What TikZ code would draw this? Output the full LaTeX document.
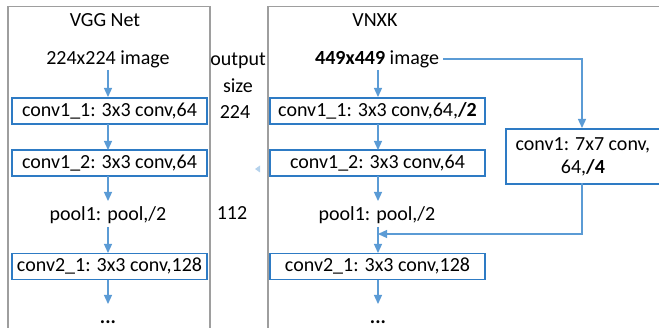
\documentclass[tikz,border=0pt]{standalone}
\usepackage{fontspec}
\setmainfont{Carlito}
\usetikzlibrary{arrows.meta}
\definecolor{boxblue}{HTML}{2E7BC4}
\definecolor{arrblue}{HTML}{5B9BD5}
\definecolor{panelgray}{HTML}{9E9E9E}
\begin{document}
\begin{tikzpicture}[x=1pt,y=-1pt,
  panel/.style={draw=panelgray,line width=1.8pt},
  layer/.style={draw=boxblue,line width=1.8pt,minimum height=26pt,inner sep=0pt,font=\fontsize{20}{23}\selectfont},
  txt/.style={inner sep=1pt,font=\fontsize{20}{23}\selectfont},
  flow/.style={draw=arrblue,line width=1.3pt,-{Triangle[width=8pt,length=9pt]}},
  plain/.style={draw=arrblue,line width=1.3pt}]
\useasboundingbox (0,0) rectangle (659,328);
\clip (0,0) rectangle (659,328);
% panels
\draw[panel] (8,340) -- (8,6.5) -- (210,6.5) -- (210,340);
\draw[panel] (268,340) -- (268,6.5) -- (670,6.5);
% left column
\node[txt] (vgg) at (105,20) {VGG Net};
\node[txt] (limg) at (108,59) {224x224 image};
\node[layer,minimum width=195pt] (l11) at (109.5,111) {conv1\_1: 3x3 conv,64};
\node[layer,minimum width=195pt] (l12) at (109.5,163) {conv1\_2: 3x3 conv,64};
\node[txt] (lpool) at (108,215) {pool1: pool,/2};
\node[layer,minimum width=195pt] (l21) at (109.5,266.5) {conv2\_1: 3x3 conv,128};
\node[txt] (ldots) at (108,322) {\textbf{...}};
\coordinate (la) at (108,70);
\coordinate (lb) at (108,227);
\coordinate (lc) at (108,304);
\draw[flow] (la) -- (108,97);
\draw[flow] (108,124) -- (108,150);
\draw[flow] (108,176) -- (108,201);
\draw[flow] (lb) -- (108,253);
\draw[flow] (108,280) -- (lc);
% middle
\node[txt] (out) at (238,61) {output};
\node[txt] (size) at (238,86) {size};
\node[txt] (s224) at (235,112) {224};
\node[txt] (s112) at (232,213) {112};
\fill[arrblue!45] (255,169) -- (260,165.5) -- (260,172.5) -- cycle;
% right column
\node[txt] (vnxk) at (375,20) {VNXK};
\node[txt,anchor=west] (rimg) at (314,59) {\textbf{449x449} image};
\node[layer,minimum width=215pt] (r11) at (377.5,111) {conv1\_1: 3x3 conv,64,\textbf{/2}};
\node[layer,minimum width=215pt] (r12) at (377.5,163) {conv1\_2: 3x3 conv,64};
\node[txt] (rpool) at (377,215) {pool1: pool,/2};
\node[layer,minimum width=215pt] (r21) at (377.5,266.5) {conv2\_1: 3x3 conv,128};
\node[txt] (rdots) at (378,322) {\textbf{...}};
\node[layer,minimum height=55pt,anchor=north west] (c7) at (505,128)
  {\parbox{154pt}{\centering\fontsize{20}{23}\selectfont conv1: 7x7 conv,\\64,\textbf{/4}}\hspace*{16pt}};
\coordinate (ra) at (378,70);
\coordinate (rb) at (378,227);
\coordinate (rc) at (378,304);
\coordinate (rj) at (582,59);
\coordinate (rk) at (582,234);
\draw[flow] (ra) -- (378,97);
\draw[flow] (378,124) -- (378,150);
\draw[flow] (378,176) -- (378,201);
\draw[flow] (rb) -- (378,253);
\draw[flow] (378,280) -- (rc);
\draw[flow] (rimg.east) ++(3,0) -- (rj) -- (582,128);
\draw[flow] (582,183) -- (rk) -- (378,234);
\end{tikzpicture}
\end{document}
